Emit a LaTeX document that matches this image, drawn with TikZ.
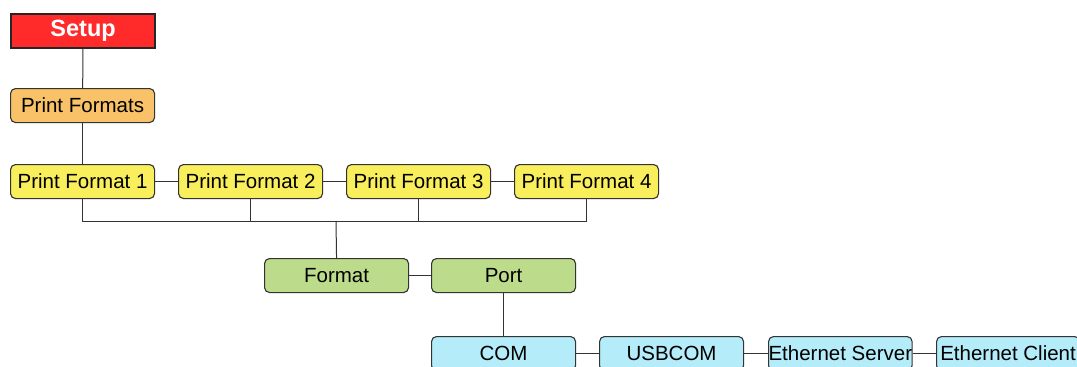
\documentclass[tikz,border=0pt]{standalone}
\usepackage{fontspec}
\setmainfont{Liberation Sans}
\definecolor{setupred}{HTML}{FF2A2A}
\definecolor{orangebox}{HTML}{F9C268}
\definecolor{yellowbox}{HTML}{F9EE5C}
\definecolor{greenbox}{HTML}{BDDC8B}
\definecolor{cyanbox}{HTML}{B4ECFA}
\definecolor{edge}{HTML}{333333}
\begin{document}
\begin{tikzpicture}[x=1pt,y=-1pt,
  box/.style={draw=edge,line width=1.1pt,rounded corners=5pt,minimum width=144pt,minimum height=34pt,inner sep=0pt,anchor=north west,font=\fontsize{20.5}{22}\selectfont,text=black},
  setupbox/.style={draw=black!85,line width=2.2pt,fill=setupred,minimum width=144pt,minimum height=34pt,inner sep=0pt,anchor=north west,font=\bfseries\fontsize{23.5}{25}\selectfont,text=white},
  conn/.style={draw=edge,line width=1pt}]
\path[use as bounding box] (0,0) rectangle (1077,367);
\clip (0,0) rectangle (1077,367);
\node[setupbox] (setup) at (10,12.5) {Setup};
\node[box,fill=orangebox] (pfs) at (10,88) {Print Formats};
\node[box,fill=yellowbox] (pf1) at (10,164) {Print Format 1};
\node[box,fill=yellowbox] (pf2) at (178,164) {Print Format 2};
\node[box,fill=yellowbox] (pf3) at (346,164) {Print Format 3};
\node[box,fill=yellowbox] (pf4) at (514,164) {Print Format 4};
\node[box,fill=greenbox] (fmt) at (264,258) {Format};
\node[box,fill=greenbox] (port) at (431,258) {Port};
\node[box,fill=cyanbox] (com) at (431,336) {COM};
\node[box,fill=cyanbox] (usb) at (599,336) {USBCOM};
\node[box,fill=cyanbox,minimum width=143pt] (es) at (768,336) {Ethernet Server};
\node[box,fill=cyanbox,minimum width=143pt] (ec) at (936,336) {Ethernet Client};
\coordinate (j) at (336,221);
\draw[conn] (setup) -- (pfs);
\draw[conn] (pfs) -- (pf1);
\draw[conn] (pf1) -- (pf2);
\draw[conn] (pf2) -- (pf3);
\draw[conn] (pf3) -- (pf4);
\draw[conn] (pf1.south) |- (j);
\draw[conn] (pf2.south) |- (j);
\draw[conn] (pf3.south) |- (j);
\draw[conn] (pf4.south) |- (j);
\draw[conn] (j) -- (fmt.north);
\draw[conn] (fmt) -- (port);
\draw[conn] (port) -- (com);
\draw[conn] (com) -- (usb);
\draw[conn] (usb) -- (es);
\draw[conn] (es) -- (ec);
\end{tikzpicture}
\end{document}
